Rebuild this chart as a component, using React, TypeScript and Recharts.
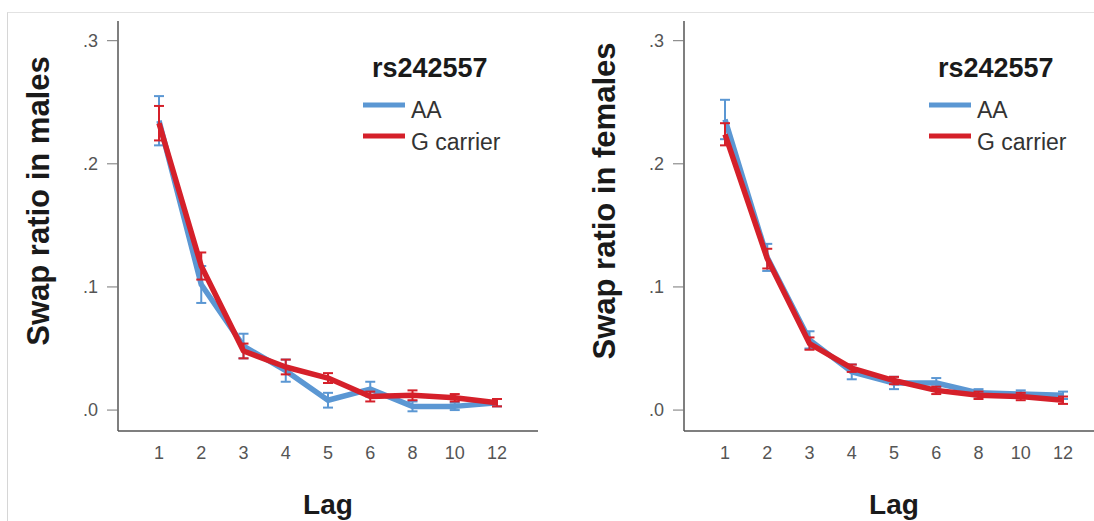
import React from 'react';
import { LineChart, Line, XAxis, YAxis, ErrorBar, Label } from 'recharts';

const lags = ['1', '2', '3', '4', '5', '6', '8', '10', '12'];

const malesAA = [0.235, 0.102, 0.052, 0.032, 0.008, 0.017, 0.003, 0.003, 0.006];
const malesAAErr = [0.020, 0.015, 0.010, 0.009, 0.006, 0.006, 0.004, 0.003, 0.003];
const malesG = [0.233, 0.117, 0.048, 0.035, 0.026, 0.011, 0.012, 0.010, 0.006];
const malesGErr = [0.014, 0.011, 0.006, 0.006, 0.004, 0.004, 0.004, 0.003, 0.003];

const femalesAA = [0.236, 0.124, 0.057, 0.031, 0.022, 0.022, 0.014, 0.013, 0.012];
const femalesAAErr = [0.016, 0.011, 0.007, 0.006, 0.005, 0.004, 0.003, 0.003, 0.003];
const femalesG = [0.224, 0.123, 0.054, 0.034, 0.024, 0.016, 0.012, 0.011, 0.008];
const femalesGErr = [0.009, 0.008, 0.005, 0.003, 0.003, 0.003, 0.003, 0.003, 0.003];

const yTicks = [0, 0.1, 0.2, 0.3];
const seriesNames = ['AA', 'G carrier'];
const legendTitle = 'rs242557';
const xTitle = 'Lag';
const yTitles = ['Swap ratio in males', 'Swap ratio in females'];

const BLUE = '#5b97d3';
const RED = '#d5202a';
const FONT = '"Liberation Sans", Arial, Helvetica, sans-serif';

function buildData(aa: number[], aaErr: number[], g: number[], gErr: number[]) {
  return lags.map((lag, i) => ({ lag, aa: aa[i], aaErr: aaErr[i], g: g[i], gErr: gErr[i] }));
}

const fmtTick = (v: number) => '.' + Math.round(v * 10);

function Panel({ left, data, yTitle }: { left: number; data: any[]; yTitle: string }) {
  return (
    <div style={{ position: 'absolute', left, top: 0 }}>
      <LineChart width={560} height={521} data={data} margin={{ top: 21, right: 22, left: 58, bottom: 0 }}>
        <XAxis
          dataKey="lag"
          type="category"
          interval={0}
          padding={{ left: 41, right: 41 }}
          height={90}
          tickLine={false}
          tickSize={0}
          tickMargin={15}
          axisLine={{ stroke: '#555', strokeWidth: 1.5 }}
          tick={{ fill: '#555', fontSize: 18, fontFamily: FONT }}
        >
          <Label
            content={(p: any) => {
              const vb = p.viewBox || {};
              return (
                <text x={vb.x + vb.width / 2} y={vb.y + 83} textAnchor="middle" fontFamily={FONT} fontWeight="bold" fontSize={28} fill="#1a1a1a">
                  {xTitle}
                </text>
              );
            }}
          />
        </XAxis>
        <YAxis
          type="number"
          domain={[-0.017, 0.316]}
          allowDataOverflow
          ticks={yTicks}
          width={60}
          tickSize={11}
          tickMargin={9}
          tickFormatter={fmtTick}
          axisLine={{ stroke: '#555', strokeWidth: 1.5 }}
          tickLine={{ stroke: '#777', strokeWidth: 1 }}
          tick={{ fill: '#555', fontSize: 18, fontFamily: FONT }}
        >
          <Label
            content={(p: any) => {
              const vb = p.viewBox || {};
              const cx = vb.x + vb.width - 69;
              const cy = vb.y + 180;
              return (
                <text x={cx} y={cy} transform={`rotate(-90 ${cx} ${cy})`} textAnchor="middle" fontFamily={FONT} fontWeight="bold" fontSize={31} fill="#1a1a1a">
                  {yTitle}
                </text>
              );
            }}
          />
        </YAxis>
        <Line type="linear" dataKey="aa" name={seriesNames[0]} stroke={BLUE} strokeWidth={5.5} strokeLinejoin="round" dot={false} activeDot={false} isAnimationActive={false}>
          <ErrorBar dataKey="aaErr" direction="y" width={5} strokeWidth={2} stroke={BLUE} />
        </Line>
        <Line type="linear" dataKey="g" name={seriesNames[1]} stroke={RED} strokeWidth={5.5} strokeLinejoin="round" dot={false} activeDot={false} isAnimationActive={false}>
          <ErrorBar dataKey="gErr" direction="y" width={5} strokeWidth={2} stroke={RED} />
        </Line>
      </LineChart>
      <svg width={560} height={521} style={{ position: 'absolute', left: 0, top: 0, pointerEvents: 'none' }}>
        <text x={254 + 118} y={76.5} fontFamily={FONT} fontWeight="bold" fontSize={27} fill="#1a1a1a">
          {legendTitle}
        </text>
        <line x1={245 + 118} x2={287 + 118} y1={105} y2={105} stroke={BLUE} strokeWidth={5} />
        <text x={293 + 118} y={118} fontFamily={FONT} fontSize={23} fill="#333">
          {seriesNames[0]}
        </text>
        <line x1={245 + 118} x2={287 + 118} y1={136} y2={136} stroke={RED} strokeWidth={5} />
        <text x={293 + 118} y={149.5} fontFamily={FONT} fontSize={23} fill="#333">
          {seriesNames[1]}
        </text>
      </svg>
    </div>
  );
}

export default function App() {
  const males = buildData(malesAA, malesAAErr, malesG, malesGErr);
  const females = buildData(femalesAA, femalesAAErr, femalesG, femalesGErr);
  return (
    <div style={{ position: 'absolute', left: 0, top: 0, width: 1094, height: 521, overflow: 'hidden', background: '#fff' }}>
      <div style={{ position: 'absolute', left: 7, top: 12, width: 1200, height: 600, borderTop: '1px solid #e2e2e2', borderLeft: '1px solid #d6d6d6' }} />
      <Panel left={0} data={males} yTitle={yTitles[0]} />
      <Panel left={566} data={females} yTitle={yTitles[1]} />
    </div>
  );
}
